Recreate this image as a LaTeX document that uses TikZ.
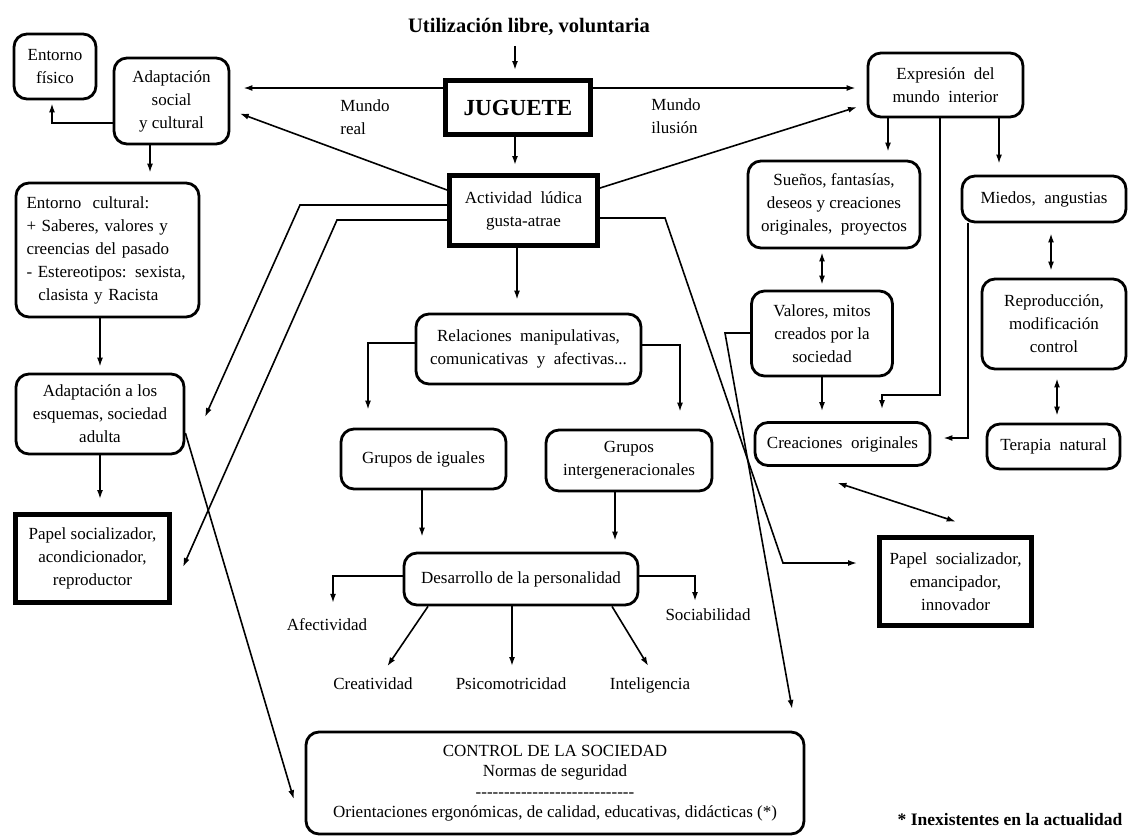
\documentclass[tikz,border=0pt]{standalone}
\usepackage{fontspec}
\setmainfont{Liberation Serif}
\usetikzlibrary{arrows.meta,calc}
\begin{document}
\begin{tikzpicture}[x=1pt,y=-1pt,
  font=\fontsize{17}{23}\selectfont,
  rbox/.style={draw, line width=2.8pt, rounded corners=13pt, align=center, inner sep=2pt},
  tbox/.style={draw, line width=5pt, align=center, inner sep=2pt},
  lbl/.style={inner sep=0pt, align=center},
  arr/.style={line width=1.6pt, -{Latex[length=9pt,width=6pt]}},
  darr/.style={line width=1.6pt, {Latex[length=9pt,width=6pt]}-{Latex[length=9pt,width=6pt]}},
]
\fill[white] (0,0) rectangle (1129,839);
\useasboundingbox (0,0) rectangle (1129,839);

% ---------- nodes ----------
\node[lbl, font=\bfseries\fontsize{20.5}{24}\selectfont] (title) at (529,27) {Utilización libre, voluntaria};
\node[tbox, minimum width=145, minimum height=54, font=\bfseries\fontsize{23}{26}\selectfont] (jug) at (518,107.5) {JUGUETE};
\node[tbox, minimum width=148, minimum height=70] (act) at (523.5,210.5) {Actividad\ \ lúdica\\gusta-atrae};

\node[lbl, align=left] (mreal) at (365,117) {Mundo\\real};
\node[lbl, align=left] (milu) at (676,116) {Mundo\\ilusión};

\node[rbox, minimum width=82, minimum height=65] (entfis) at (55,66.5) {Entorno\\físico};
\node[rbox, minimum width=115, minimum height=86] (adsoc) at (171.5,101) {Adaptación\\social\\y cultural};
\node[rbox, minimum width=183, minimum height=134, text width=162, align=left] (entcul) at (107.5,250)
  {Entorno\ \ cultural:\\+ Saberes, valores y\\creencias del pasado\\- Estereotipos: sexista,\\\hspace*{0.7em}clasista y Racista};
\node[rbox, minimum width=168, minimum height=80] (adesq) at (100,414) {Adaptación a los\\esquemas, sociedad\\adulta};
\node[tbox, minimum width=154, minimum height=88] (pap1) at (92.5,558.5) {Papel socializador,\\acondicionador,\\reproductor};

\node[rbox, minimum width=225, minimum height=70] (rel) at (528.5,349) {Relaciones\ \ manipulativas,\\comunicativas\ \ y\ \ afectivas...};
\node[rbox, minimum width=165, minimum height=60] (igu) at (423.5,459) {Grupos de iguales};
\node[rbox, minimum width=166, minimum height=61] (inter) at (629,460.5) {Grupos\\intergeneracionales};
\node[rbox, minimum width=234, minimum height=52] (desa) at (521,579) {Desarrollo de la personalidad};

\node[lbl, anchor=base] (afect) at (327,630) {Afectividad};
\node[lbl, anchor=base] (socia) at (708,620) {Sociabilidad};
\node[lbl, anchor=base] (creat) at (373,689) {Creatividad};
\node[lbl, anchor=base] (psico) at (511,689) {Psicomotricidad};
\node[lbl, anchor=base] (intel) at (650,689) {Inteligencia};

\node[rbox, minimum width=498, minimum height=102, font=\fontsize{17}{20.5}\selectfont] (ctrl) at (555,783)
  {CONTROL DE LA SOCIEDAD\\Normas de seguridad\\-{}-{}-{}-{}-{}-{}-{}-{}-{}-{}-{}-{}-{}-{}-{}-{}-{}-{}-{}-{}-{}-{}-{}-{}-{}-{}-{}-{}\\Orientaciones ergonómicas, de calidad, educativas, didácticas (*)};

\node[rbox, minimum width=155, minimum height=64] (exp) at (945.5,85) {Expresión\ \ del\\mundo\ \ interior};
\node[rbox, minimum width=172, minimum height=87] (sue) at (834,204.5) {Sueños, fantasías,\\deseos y creaciones\\originales,\ \ proyectos};
\node[rbox, minimum width=164, minimum height=46] (mie) at (1044,199) {Miedos,\ \ angustias};
\node[rbox, minimum width=141, minimum height=85] (val) at (822,333.5) {Valores, mitos\\creados por la\\sociedad};
\node[rbox, minimum width=175, minimum height=43] (cre) at (842.5,444) {Creaciones\ \ originales};
\node[rbox, minimum width=144, minimum height=90] (rep) at (1054,324) {Reproducción,\\modificación\\control};
\node[rbox, minimum width=133, minimum height=45] (ter) at (1053.5,446.5) {Terapia\ \ natural};
\node[tbox, minimum width=152, minimum height=88] (pap2) at (955.5,581.5) {Papel\ \ socializador,\\emancipador,\\innovador};

\node[lbl, font=\bfseries\fontsize{17.5}{21}\selectfont] (foot) at (1010,820) {* Inexistentes en la actualidad};

% ---------- helper coordinates ----------
\coordinate (kA1) at (300,205);
\coordinate (tA1) at (205,417);
\coordinate (kA2) at (337,220);
\coordinate (tA2) at (183,567);
\coordinate (kA3) at (665,218);
\coordinate (kA3b) at (783,563);
\coordinate (kV) at (725,333);
\coordinate (kE1) at (940,395);
\coordinate (kE2) at (882,395);

% ---------- connectors ----------
\draw[arr, shorten <=10pt, shorten >=8pt] (title.south -| 515,0) -- (jug.north -| 515,0);
\draw[arr, shorten >=13pt] (jug.west |- 0,88) -- (adsoc.east |- 0,88);
\draw[arr, shorten >=11pt] (jug.east |- 0,88) -- (exp.west |- 0,88);
\draw[arr, shorten >=8pt] (jug.south -| 515,0) -- (act.north -| 515,0);
\draw[arr, shorten >=10pt] (act.west |- 0,190) -- (adsoc.east |- 0,110);
\draw[arr, shorten >=10pt] (act.east |- 0,188) -- (exp.west |- 0,104);

\draw[arr, shorten >=3pt] (adsoc.west |- 0,123) -| (entfis.south -| 52,0);
\draw[arr, shorten >=9pt] (adsoc.south -| 150,0) -- (entcul.north -| 150,0);
\draw[arr, shorten >=6pt] (entcul.south -| 100,0) -- (adesq.north -| 100,0);
\draw[arr, shorten >=13pt] (adesq.south -| 100,0) -- (pap1.north -| 100,0);

\draw[arr] (act.west |- kA1) -- (kA1) -- (tA1);
\draw[arr] (act.west |- kA2) -- (kA2) -- (tA2);
\draw[arr, shorten >=20pt] (act.east |- kA3) -- (kA3) -- (kA3b) -- (pap2.west |- kA3b);
\draw[arr, shorten >=22pt] (val.west |- kV) -- (kV) -- (ctrl.north -| 796,0);
\draw[arr, shorten >=38pt] (adesq.east |- 0,433) -- (ctrl.west |- 0,835.6);

\draw[arr, shorten >=13pt] (act.south -| 517,0) -- (rel.north -| 517,0);
\draw[arr, shorten >=18pt] (rel.west |- 0,343) -| (igu.north -| 368,0);
\draw[arr, shorten >=17pt] (rel.east |- 0,345) -| (inter.north -| 680,0);
\draw[arr, shorten >=15pt] (igu.south -| 422,0) -- (desa.north -| 422,0);
\draw[arr, shorten >=11pt] (inter.south -| 615,0) -- (desa.north -| 615,0);

\draw[arr, shorten >=15pt] (desa.west |- 0,576) -| (afect.north -| 333,0);
\draw[arr, shorten >=7pt] (desa.east |- 0,576) -| (socia.north -| 695,0);
\draw[arr, shorten >=13pt] (desa.south -| 428,0) -- (creat.north -| 380,0);
\draw[arr, shorten >=11pt] (desa.south -| 512,0) -- (psico.north -| 512,0);
\draw[arr, shorten >=13pt] (desa.south -| 612,0) -- (intel.north -| 655,0);

\draw[arr, shorten >=8pt] (exp.south -| 888,0) -- (sue.north -| 888,0);
\draw[arr, shorten >=12pt] (exp.south -| 940,0) -- (kE1) -- (kE2) -- (cre.north -| 882,0);
\draw[arr, shorten >=11pt] (exp.south -| 999,0) -- (mie.north -| 999,0);
\draw[darr, shorten <=3pt, shorten >=5pt] (sue.south -| 822,0) -- (val.north -| 822,0);
\draw[arr, shorten >=10pt] (val.south -| 822,0) -- (cre.north -| 822,0);
\draw[arr, shorten >=12pt] (mie.south -| 968,0) |- (cre.east |- 0,438);
\draw[darr, shorten <=10pt, shorten >=7pt] (mie.south -| 1051,0) -- (rep.north -| 1051,0);
\draw[darr, shorten <=8pt, shorten >=7pt] (rep.south -| 1057,0) -- (ter.north -| 1057,0);
\draw[darr, shorten <=51pt, shorten >=43pt] (cre.south -| 789,0) -- (pap2.north -| 996.6,0);
\end{tikzpicture}
\end{document}
